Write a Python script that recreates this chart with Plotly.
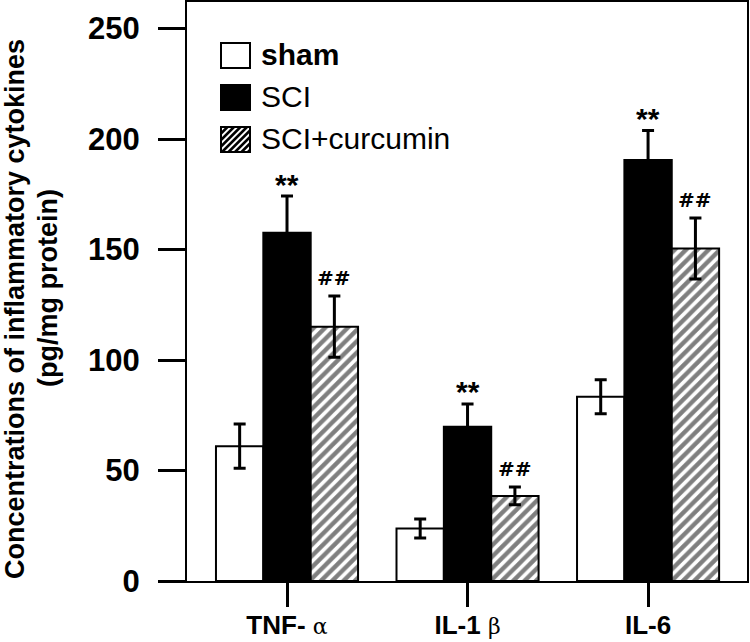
import plotly.graph_objects as go

# ---- data ----
categories = ["TNF- α", "IL-1 β", "IL-6"]
tick_labels = [
    "TNF- <span style='font-family:DejaVu Serif;font-weight:normal;font-size:22px'>α</span>",
    "IL-1 <span style='font-family:DejaVu Serif;font-weight:normal;font-size:22px'>β</span>",
    "IL-6",
]
series_names = ["sham", "SCI", "SCI+curcumin"]
sham_vals = [61.0, 23.8, 83.4]
sham_err = [10.0, 4.3, 7.7]
sci_vals = [157.6, 69.8, 190.5]
sci_err = [16.6, 10.3, 13.4]
cur_vals = [115.1, 38.5, 150.5]
cur_err = [13.9, 4.0, 13.8]
sci_marks = ["**", "**", "**"]
cur_marks = ["##", "##", "##"]
y_ticks = [0, 50, 100, 150, 200, 250]

FONT = "Liberation Sans, Arial, sans-serif"
W, H = 750, 642
ML, MR, MT, MB = 187, 3, 2, 61
PW, PH = W - ML - MR, H - MT - MB

x_idx = list(range(len(categories)))

fig = go.Figure()
common = dict(marker_line_color="black", marker_line_width=2, showlegend=False)
eb = dict(type="data", visible=True, color="black", thickness=3, width=6)

fig.add_trace(go.Bar(x=x_idx, y=sham_vals, name=series_names[0],
                     marker_color="white", error_y=dict(array=sham_err, **eb), **common))
fig.add_trace(go.Bar(x=x_idx, y=sci_vals, name=series_names[1],
                     marker_color="black", error_y=dict(array=sci_err, **eb), **common))
fig.add_trace(go.Bar(x=x_idx, y=cur_vals, name=series_names[2],
                     marker=dict(color="white",
                                 pattern=dict(shape="/", fgcolor="black", bgcolor="white",
                                              size=8, solidity=0.55)),
                     error_y=dict(array=cur_err, **eb), **common))

bw = (1 - 0.213) / 3
annotations = []
for i in x_idx:
    annotations.append(dict(x=i, y=sci_vals[i] + sci_err[i], xref="x", yref="y",
                            text="<b>" + sci_marks[i] + "</b>", showarrow=False,
                            yanchor="middle", yshift=12,
                            font=dict(family=FONT, size=30, color="black")))
    annotations.append(dict(x=i + bw, y=cur_vals[i] + cur_err[i], xref="x", yref="y",
                            text="<b>" + cur_marks[i] + "</b>", showarrow=False,
                            yanchor="middle", yshift=18,
                            font=dict(family="DejaVu Sans", size=20, color="black")))

def px2x(px):
    return (px - ML) / PW

def py2y(py):
    return (H - MB - py) / PH

# y-axis title (two lines)
annotations.append(dict(x=px2x(15), y=py2y(309), xref="paper", yref="paper",
                        text="<b>Concentrations of inflammatory cytokines</b>",
                        textangle=-90, showarrow=False, xanchor="center", yanchor="middle",
                        font=dict(family=FONT, size=27, color="black")))
annotations.append(dict(x=px2x(48), y=py2y(288), xref="paper", yref="paper",
                        text="<b>(pg/mg protein)</b>",
                        textangle=-90, showarrow=False, xanchor="center", yanchor="middle",
                        font=dict(family=FONT, size=27, color="black")))

# manual legend
shapes = []
leg_x0, leg_x1 = 221, 250
leg_rows = [(43, 68), (85, 110), (127, 152)]
fills = ["white", "black", "white"]
for k, (ya, yb) in enumerate(leg_rows):
    shapes.append(dict(type="rect", xref="paper", yref="paper",
                       x0=px2x(leg_x0), x1=px2x(leg_x1), y0=py2y(yb), y1=py2y(ya),
                       fillcolor=fills[k], line=dict(color="black", width=2)))
    annotations.append(dict(x=px2x(259), y=py2y((ya + yb) / 2 - 1), xref="paper", yref="paper",
                            text=("<b>%s</b>" % series_names[k]) if k == 0 else series_names[k],
                            showarrow=False, xanchor="left", yanchor="middle",
                            font=dict(family=FONT, size=30, color="black")))

# hatch lines in third legend box
ya, yb = leg_rows[2]
hgt = yb - ya
step = 6.5
c = leg_x0 - hgt
while c < leg_x1:
    xs, xe = c, c + hgt
    ys, ye = yb, ya
    if xs < leg_x0:
        ys = yb - (leg_x0 - xs)
        xs = leg_x0
    if xe > leg_x1:
        ye = ya + (xe - leg_x1)
        xe = leg_x1
    if xe > xs:
        shapes.append(dict(type="line", xref="paper", yref="paper",
                           x0=px2x(xs), y0=py2y(ys), x1=px2x(xe), y1=py2y(ye),
                           line=dict(color="black", width=2.5)))
    c += step

fig.update_layout(
    width=W, height=H,
    margin=dict(l=ML, r=MR, t=MT, b=MB, autoexpand=False),
    paper_bgcolor="white", plot_bgcolor="white",
    barmode="group", bargap=0.213, bargroupgap=0,
    showlegend=False,
    annotations=annotations, shapes=shapes,
    font=dict(family=FONT, color="black"),
)
fig.update_xaxes(range=[-0.554, 2.548], tickmode="array", tickvals=x_idx, ticktext=tick_labels,
                 showline=True, linecolor="black", linewidth=2, mirror=True,
                 ticks="outside", ticklen=24, tickwidth=2.5, tickcolor="black",
                 showgrid=False, zeroline=False, ticklabelstandoff=-4, automargin=False,
                 tickfont=dict(family=FONT, size=26, color="black", weight="bold"))
fig.update_yaxes(range=[0, 262], tickvals=y_ticks,
                 showline=True, linecolor="black", linewidth=2, mirror=True,
                 ticks="outside", ticklen=27, tickwidth=2.5, tickcolor="black",
                 showgrid=False, zeroline=False, ticklabelstandoff=12, automargin=False,
                 tickfont=dict(family=FONT, size=31, color="black", weight="bold"))

fig.write_html("out.html", config={"displayModeBar": False},
               post_script="document.body.style.margin='0';document.body.style.padding='0';")
